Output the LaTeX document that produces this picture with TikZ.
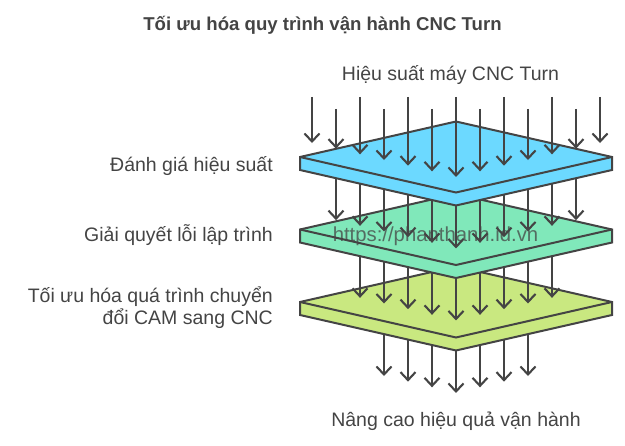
\documentclass[tikz,border=0pt]{standalone}
\usepackage{fontspec}
\setmainfont{Liberation Sans}
\usetikzlibrary{arrows.meta}
\definecolor{ink}{RGB}{68,68,68}
\definecolor{pblue}{RGB}{108,217,255}
\definecolor{pgreen}{RGB}{128,232,186}
\definecolor{plime}{RGB}{201,232,128}
\newcommand\slabdraw[2]{%
  \path[plate,fill=#2] (456,#1-35.5) -- (612,#1) -- (612,#1+13) -- (456,#1+48.5) -- (300,#1+13) -- (300,#1) -- cycle;
  \draw[plate] (300,#1) -- (456,#1+35.5) -- (612,#1);
}
\newcommand\flowrow[5]{% layer, kmin, kmax, start y, tip centre y
  \foreach \k in {#2,...,#3} {
    \pgfmathsetmacro\xx{312+24*\k}
    \pgfmathsetmacro\ty{#5-0.236*abs(\xx-456)}
    \coordinate (s#1-\k) at (\xx,#4);
    \coordinate (e#1-\k) at (\xx,\ty);
    \draw[flow] (s#1-\k) -- (e#1-\k);
  }
}
\begin{document}
\begin{tikzpicture}[x=1pt,y=-1pt,
  flow/.style={draw=ink,line width=2.1pt,-{Straight Barb[length=8pt,width=15pt,line width=2.1pt]}},
  plate/.style={draw=ink,line width=2pt,line join=miter},
  lbl/.style={text=ink,font=\fontsize{19.5}{22}\selectfont,inner sep=0pt},
]
\useasboundingbox (0,0) rectangle (625,446);
% title and end labels
\node[lbl,font=\bfseries\fontsize{18.6}{22}\selectfont,anchor=base] (title) at (322.5,31) {Tối ưu hóa quy trình vận hành CNC Turn};
\node[lbl,anchor=base] (input) at (450.5,81) {Hiệu suất máy CNC Turn};
\node[lbl,anchor=base] (output) at (456,427) {Nâng cao hiệu quả vận hành};
% side labels
\node[lbl,anchor=base east] (l1) at (273,172) {Đánh giá hiệu suất};
\node[lbl,anchor=base east] (l2) at (273,242) {Giải quyết lỗi lập trình};
\node[lbl,anchor=base east] (l3a) at (273,303) {Tối ưu hóa quá trình chuyển};
\node[lbl,anchor=base east] (l3b) at (273,325) {đổi CAM sang CNC};
% bottom arrows, under plate 3
\flowrow{3}{3}{9}{302}{393}
\slabdraw{302}{plime}
\flowrow{2}{2}{10}{229.5}{320.5}
\slabdraw{229.5}{pgreen}
\node[lbl,font=\fontsize{20.3}{22}\selectfont,text opacity=0.75,anchor=base] (wm) at (435.5,242) {https://phanthanh.id.vn};
\flowrow{1}{1}{11}{157}{248.5}
\slabdraw{157}{pblue}
% top arrows
\foreach \k in {0,...,12} {
  \pgfmathsetmacro\xx{312+24*\k}
  \pgfmathsetmacro\sy{97+12*mod(\k,2)}
  \pgfmathsetmacro\ty{177-0.236*abs(\xx-456)}
  \coordinate (s0-\k) at (\xx,\sy);
  \coordinate (e0-\k) at (\xx,\ty);
  \draw[flow] (s0-\k) -- (e0-\k);
}
\end{tikzpicture}
\end{document}
